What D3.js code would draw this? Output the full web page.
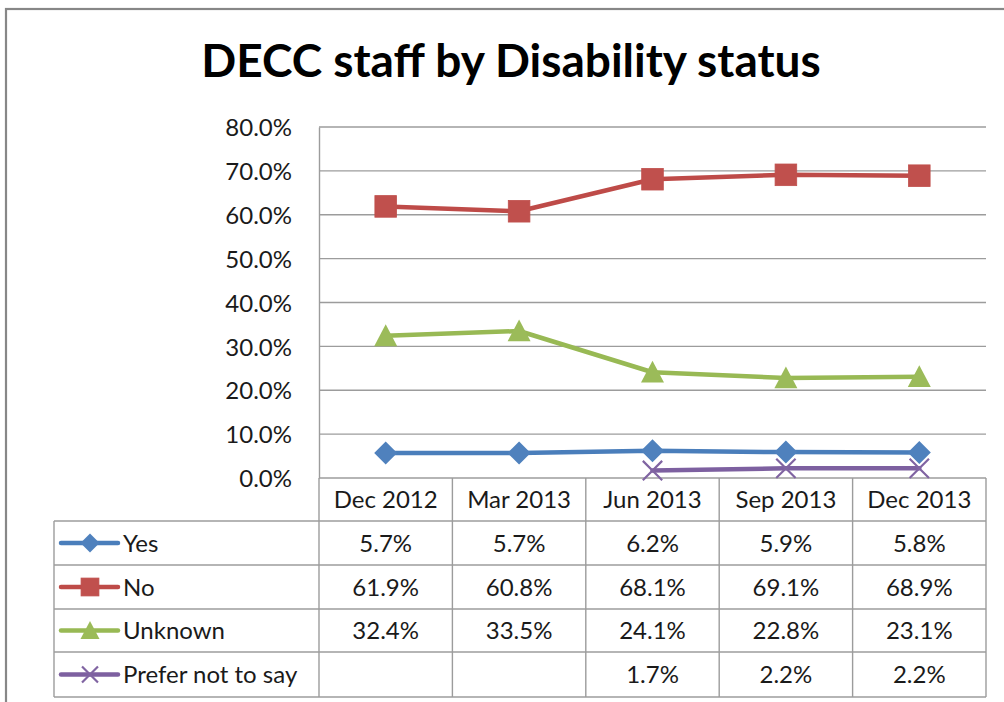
<!DOCTYPE html>
<html><head><meta charset="utf-8">
<script src="https://cdn.jsdelivr.net/npm/d3@7"></script>
<style>
html,body{margin:0;padding:0;background:#fff;}
svg{display:block;font-family:Lato,"Open Sans",sans-serif;}
</style></head>
<body>
<svg id="chart" width="1004" height="702"></svg>
<script>
const title = "DECC staff by Disability status";
const categories = ["Dec 2012","Mar 2013","Jun 2013","Sep 2013","Dec 2013"];
const seriesNames = ["Yes","No","Unknown","Prefer not to say"];
const yesValues = [5.7, 5.7, 6.2, 5.9, 5.8];
const noValues = [61.9, 60.8, 68.1, 69.1, 68.9];
const unknownValues = [32.4, 33.5, 24.1, 22.8, 23.1];
const preferValues = [null, null, 1.7, 2.2, 2.2];
const yTicks = [0, 10, 20, 30, 40, 50, 60, 70, 80];

const seriesValues = [yesValues, noValues, unknownValues, preferValues];
const lineColors = ["#4A7EBB","#BE4B48","#98B954","#7D60A0"];
const markerColors = ["#4F81BD","#C0504D","#9BBB59","#8064A2"];
const markerTypes = ["diamond","square","triangle","x"];

const svg = d3.select("#chart");
const L = 319, R = 986, T = 127, B = 478;
const tableLeft = 54;
const rowEdges = [478, 521, 565, 609, 652, 697];

const x = d3.scaleBand().domain(categories).range([L, R]).padding(0);
const y = d3.scaleLinear().domain([0, 80]).range([B, T]);

// outer border
svg.append("rect").attr("x", 6).attr("y", 9).attr("width", 1020).attr("height", 720)
  .attr("fill", "#fff").attr("stroke", "#878787").attr("stroke-width", 2.2);

// title
svg.append("text").attr("x", 511).attr("y", 77).attr("text-anchor", "middle")
  .attr("font-weight", 700).attr("font-size", 46).attr("fill", "#000").text(title);

// gridlines
svg.append("g").selectAll("line").data(yTicks.filter(d => d > 0)).join("line")
  .attr("x1", L).attr("x2", R).attr("y1", d => y(d)).attr("y2", d => y(d))
  .attr("stroke", "#9c9c9c").attr("stroke-width", 1.4);

// y axis via d3
const yAxis = d3.axisLeft(y).tickValues(yTicks).tickSize(0).tickPadding(27)
  .tickFormat(d => d.toFixed(1) + "%");
const ya = svg.append("g").attr("transform", `translate(${L},0)`).call(yAxis);
ya.select(".domain").attr("stroke", "#9c9c9c").attr("stroke-width", 1.4);
ya.selectAll("text").attr("font-size", 24).attr("fill", "#1a1a1a")
  .attr("font-family", "Lato, sans-serif").attr("dy", "0.36em");

// table grid
const tg = svg.append("g").attr("stroke", "#9c9c9c").attr("stroke-width", 1.4);
rowEdges.forEach((ry, i) => {
  tg.append("line").attr("x1", i === 0 ? L : tableLeft).attr("x2", R)
    .attr("y1", ry).attr("y2", ry);
});
tg.append("line").attr("x1", tableLeft).attr("x2", tableLeft).attr("y1", rowEdges[1]).attr("y2", rowEdges[5]);
tg.append("line").attr("x1", L).attr("x2", L).attr("y1", B).attr("y2", rowEdges[5]);
categories.forEach(c => {
  const xr = x(c) + x.bandwidth();
  tg.append("line").attr("x1", xr).attr("x2", xr).attr("y1", rowEdges[0]).attr("y2", rowEdges[5]);
});

// category header
svg.append("g").selectAll("text").data(categories).join("text")
  .attr("x", d => x(d) + x.bandwidth() / 2)
  .attr("y", (rowEdges[0] + rowEdges[1]) / 2).attr("dy", "0.36em")
  .attr("text-anchor", "middle").attr("font-size", 24).attr("fill", "#1a1a1a")
  .text(d => d);

function drawMarker(g, type, color, size) {
  if (type === "diamond") {
    const h = size / 2;
    g.append("path").attr("d", `M0,${-h}L${h},0L0,${h}L${-h},0Z`).attr("fill", color);
  } else if (type === "square") {
    const h = size * 0.47;
    g.append("rect").attr("x", -h).attr("y", -h).attr("width", 2 * h).attr("height", 2 * h)
      .attr("fill", color).attr("stroke", color).attr("stroke-width", 0.8);
  } else if (type === "triangle") {
    const h = size / 2;
    g.append("path").attr("d", `M0,${-h}L${h},${h * 0.9}L${-h},${h * 0.9}Z`).attr("fill", color);
  } else {
    const h = size * 0.42;
    g.append("path").attr("d", `M${-h},${-h}L${h},${h}M${h},${-h}L${-h},${h}`)
      .attr("stroke", color).attr("stroke-width", 2.2).attr("fill", "none");
  }
}

const lineGen = d3.line()
  .defined(d => d.v !== null)
  .x(d => x(d.c) + x.bandwidth() / 2)
  .y(d => y(d.v));

seriesValues.forEach((vals, si) => {
  const pts = categories.map((c, i) => ({ c, v: vals[i] }));
  svg.append("path").datum(pts).attr("d", lineGen).attr("fill", "none")
    .attr("stroke", lineColors[si]).attr("stroke-width", 4.5)
    .attr("stroke-linejoin", "round").attr("stroke-linecap", "round");
  pts.filter(p => p.v !== null).forEach(p => {
    const g = svg.append("g")
      .attr("transform", `translate(${x(p.c) + x.bandwidth() / 2},${y(p.v)})`);
    drawMarker(g, markerTypes[si], markerColors[si], 23);
  });
});

seriesNames.forEach((name, si) => {
  const cy = (rowEdges[si + 1] + rowEdges[si + 2]) / 2;
  svg.append("line").attr("x1", 61).attr("x2", 118).attr("y1", cy).attr("y2", cy)
    .attr("stroke", lineColors[si]).attr("stroke-width", 4.5).attr("stroke-linecap", "round");
  const g = svg.append("g").attr("transform", `translate(90,${cy})`);
  drawMarker(g, markerTypes[si], markerColors[si], 19);
  svg.append("text").attr("x", 123).attr("y", cy).attr("dy", "0.36em")
    .attr("font-size", 24).attr("fill", "#1a1a1a").text(name);
  seriesValues[si].forEach((v, i) => {
    if (v === null) return;
    svg.append("text").attr("x", x(categories[i]) + x.bandwidth() / 2).attr("y", cy)
      .attr("dy", "0.36em").attr("text-anchor", "middle")
      .attr("font-size", 24).attr("fill", "#1a1a1a").text(v.toFixed(1) + "%");
  });
});
</script>
</body></html>
